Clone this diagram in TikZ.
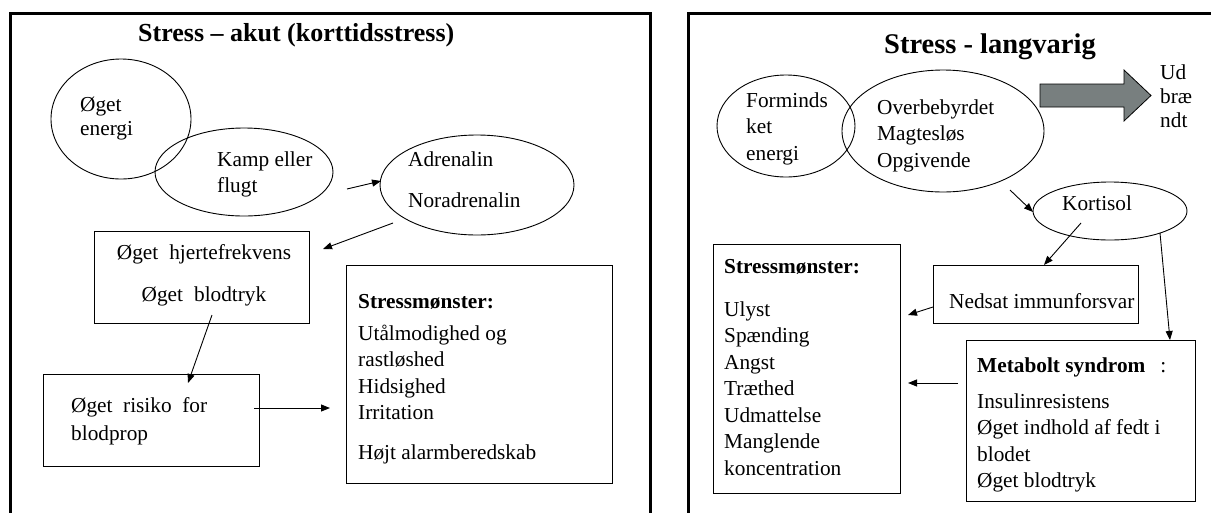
\documentclass[tikz,border=0pt]{standalone}
\usepackage{fontspec}
\setmainfont{Liberation Serif}
\usetikzlibrary{arrows.meta,shapes.geometric}

\definecolor{burnfill}{RGB}{120,127,127}
\newcommand{\topstrut}{\rule{0pt}{20pt}}

\begin{document}
\begin{tikzpicture}[x=1pt,y=-1pt,
  panel/.style={line width=3pt},
  bubble/.style={draw,ellipse,line width=0.9pt,inner sep=0pt},
  box/.style={draw,rectangle,line width=0.9pt,inner sep=0pt,anchor=north west},
  txt/.style={font=\fontsize{21.3}{26.5}\selectfont,align=left,inner sep=0pt,anchor=north west},
  ctxt/.style={txt,align=center,anchor=north},
  heading/.style={font=\fontsize{#1}{#1}\selectfont\bfseries,inner sep=0pt,anchor=base west},
  arr/.style={line width=0.9pt,-{Triangle[length=9pt,width=7pt]}},
  link/.style={line width=0.9pt}
]
\useasboundingbox (0,0) rectangle (1211,512);
\clip (0,0) rectangle (1211,512);

% panel frames (open at the bottom)
\draw[panel] (10,530) -- (10,13) -- (650,13) -- (650,530);
\draw[panel] (688,530) -- (688,13) -- (1230,13);

% ---------- acute stress ----------
\node[heading=26] (tacute) at (138,41) {Stress – akut (korttidsstress)};

\node[bubble,minimum width=140,minimum height=120] (energy) at (121,119) {};
\node[bubble,minimum width=178,minimum height=88] (fight) at (244,172) {};
\node[bubble,minimum width=194,minimum height=100] (adren) at (477,185) {};

\node[txt] (energyt) at (80,91) {\topstrut Øget\\[-2pt]energi};
\node[txt] (fightt) at (217,146) {\topstrut Kamp eller\\flugt};
\node[txt] (adrent) at (408,146) {\topstrut Adrenalin\\[14.5pt]Noradrenalin};

\node[box,minimum width=215,minimum height=92] (heart) at (94,231) {};
\node[ctxt] (heartt) at (204,239) {\topstrut Øget\hspace{11pt}hjertefrekvens\\[15.5pt]Øget\hspace{11pt}blodtryk};

\node[box,minimum width=216,minimum height=92] (risk) at (43,374) {};
\node[txt] (riskt) at (71,392) {\topstrut Øget\hspace{10.6pt}risiko\hspace{10.6pt}for\\[1.5pt]blodprop};

\node[box,minimum width=266,minimum height=218] (patA) at (346,265) {};
\node[txt] (patAt) at (358,288) {\topstrut\textbf{Stressmønster:}\\[5.5pt]Utålmodighed og\\rastløshed\\Hidsighed\\Irritation\\[13.5pt]Højt alarmberedskab};

\coordinate (fa1) at (347,189);  \coordinate (fa2) at (381,181);
\coordinate (ah1) at (393,223);  \coordinate (ah2) at (323,249);
\coordinate (hr1) at (212,315);  \coordinate (hr2) at (188,383);
\coordinate (rp1) at (254,408);  \coordinate (rp2) at (330,408);
\draw[arr] (fa1) -- (fa2);
\draw[arr] (ah1) -- (ah2);
\draw[arr] (hr1) -- (hr2);
\draw[arr] (rp1) -- (rp2);

% ---------- long-term stress ----------
\node[heading=28.5] (tlong) at (884,53) {Stress - langvarig};

\node[bubble,minimum width=138,minimum height=102] (less) at (786,126) {};
\node[bubble,minimum width=202,minimum height=122] (over) at (943,131) {};
\node[bubble,minimum width=154,minimum height=58] (cort) at (1110,211) {};

\node[txt] (lesst) at (746,87) {\topstrut Forminds\\ket\\energi};
\node[txt] (overt) at (877,94) {\topstrut Overbebyrdet\\Magtesløs\\Opgivende};
\node[txt] (cortt) at (1062,190) {\topstrut Kortisol};

% block arrow towards burn-out
\filldraw[fill=burnfill,draw=black,line width=0.8pt]
  (1040,84) -- (1124,84) -- (1124,70) -- (1151,95.5) -- (1124,121) -- (1124,107) -- (1040,107) -- cycle;
\node[txt] (burnt) at (1160,59) {\topstrut Ud\\[-2.5pt]bræ\\[-2.5pt]ndt};

\node[box,minimum width=187,minimum height=249] (patB) at (713,244) {};
\node[txt] (patBt) at (724,253) {\topstrut\textbf{Stressmønster:}\\[16.5pt]Ulyst\\Spænding\\Angst\\Træthed\\Udmattelse\\Manglende\\koncentration};

\node[box,minimum width=205,minimum height=58] (immun) at (933,265) {};
\node[txt] (immunt) at (949,288) {\topstrut Nedsat immunforsvar};

\node[box,minimum width=229,minimum height=161] (meta) at (966,340) {};
\node[txt] (metat) at (977,352) {\topstrut\textbf{Metabolt syndrom}\hspace{15pt}:\\[9.5pt]Insulinresistens\\Øget indhold af fedt i\\blodet\\Øget blodtryk};

\coordinate (oc1) at (1010,190); \coordinate (oc2) at (1033,212);
\coordinate (ci1) at (1081,223); \coordinate (ci2) at (1044,265);
\coordinate (cm1) at (1160,233); \coordinate (cm2) at (1170,340);
\coordinate (ip1) at (933,307);  \coordinate (ip2) at (908,315);
\coordinate (mp1) at (958,383);  \coordinate (mp2) at (908,383);
\draw[arr] (oc1) -- (oc2);
\draw[arr] (ci1) -- (ci2);
\draw[arr] (cm1) -- (cm2);
\draw[arr] (ip1) -- (ip2);
\draw[arr] (mp1) -- (mp2);
\end{tikzpicture}
\end{document}
